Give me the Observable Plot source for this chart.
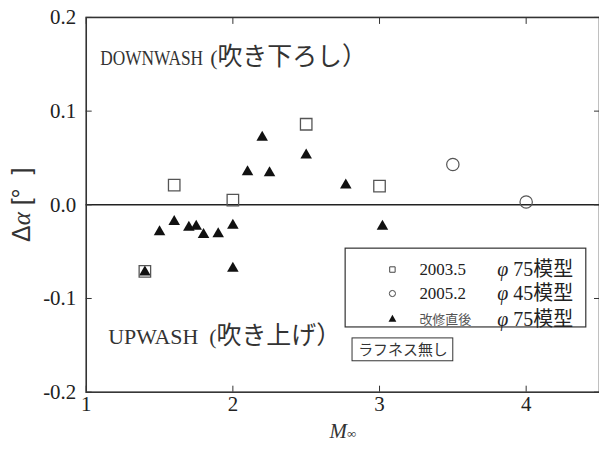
<!DOCTYPE html>
<html><head><meta charset="utf-8">
<script src="https://cdn.jsdelivr.net/npm/d3@7"></script>
<script src="https://cdn.jsdelivr.net/npm/@observablehq/plot@0.6"></script>
<style>
html,body{margin:0;padding:0;background:#fff;overflow:hidden;}
#chart{width:599px;height:470px;overflow:hidden;}
</style></head><body><div id="chart"></div>
<script>
// ---- data ----
const squareM = [1.4, 1.6, 2.0, 2.5, 3.0];
const squareDA = [-0.071, 0.021, 0.005, 0.086, 0.020];
const circleM = [3.5, 4.0];
const circleDA = [0.043, 0.003];
const triM = [1.4, 1.5, 1.6, 1.7, 1.75, 1.8, 1.9, 2.0, 2.0, 2.1, 2.2, 2.25, 2.5, 2.77, 3.02];
const triDA = [-0.072, -0.029, -0.018, -0.024, -0.023, -0.032, -0.031, -0.022, -0.068, 0.035, 0.072, 0.034, 0.053, 0.021, -0.023];
const xTicks = [1, 2, 3, 4];
const yTicks = [-0.2, -0.1, 0.0, 0.1, 0.2];
const legendLabels = ["2003.5", "2005.2", "改修直後"];
const legendModels = ["φ 75模型", "φ 45模型", "φ 75模型"];
const legendSymbols = ["square", "circle", "triangle"];
const yTitle = "Δα [° ]";
const xTitle = "M∞";
const downText = "DOWNWASH";
const downJa = "(吹き下ろし）";
const upText = "UPWASH  (吹き上げ）";
const roughText = "ラフネス無し";

const squares = squareM.map((m, i) => ({m, da: squareDA[i]}));
const circles = circleM.map((m, i) => ({m, da: circleDA[i]}));
const tris = triM.map((m, i) => ({m, da: triDA[i]}));
const legendRowY = [-0.0691, -0.0947, -0.1223];
const legendRows = legendLabels.map((label, i) => ({label, model: legendModels[i], symbol: legendSymbols[i], y: legendRowY[i]}));

const serif = "Liberation Serif, 'Noto Sans CJK JP', serif";
const chart = Plot.plot({
  width: 601, height: 470,
  marginLeft: 86, marginRight: 0, marginTop: 17, marginBottom: 77,
  x: {domain: [1, 4.5]},
  y: {domain: [-0.2, 0.2]},
  style: {fontFamily: serif, fontSize: "20px", color: "#222", background: "white"},
  marks: [
    Plot.ruleY([0], {stroke: "#222", strokeWidth: 1.4}),
    Plot.axisX({ticks: xTicks, tickSize: -6, tickPadding: 10, tickFormat: d => String(d), label: null, stroke: "#333", fontSize: 21, fill: "#222"}),
    Plot.axisX({anchor: "top", ticks: xTicks, tickSize: -6, tickFormat: () => "", label: null, stroke: "#333"}),
    Plot.axisY({ticks: yTicks, tickSize: -6, tickPadding: 16, tickFormat: d => d.toFixed(1), label: null, stroke: "#333", fontSize: 21, fill: "#222"}),
    Plot.axisY({anchor: "right", ticks: yTicks, tickSize: -6, tickFormat: () => "", label: null, stroke: "#333"}),
    Plot.frame({stroke: "#333", strokeWidth: 1.6}),
    // data
    Plot.dot(tris, {x: "m", y: "da", symbol: "triangle", r: 4.3, fill: "#111", stroke: "none"}),
    Plot.dot(squares, {x: "m", y: "da", symbol: "square", r: 6.5, fill: "none", stroke: "#555", strokeWidth: 1.3}),
    Plot.dot(circles, {x: "m", y: "da", symbol: "circle", r: 6.2, fill: "none", stroke: "#555", strokeWidth: 1.2}),
    // annotations
    Plot.text([downText], {x: 1.095, y: 0.1564, text: d => d, textAnchor: "start", fontSize: 22, fill: "#333", fontFamily: serif}),
    Plot.text([downJa], {x: 1.845, y: 0.1564, text: d => d, textAnchor: "start", fontSize: 22, fill: "#333", fontFamily: serif}),
    Plot.text([upText], {x: 1.15, y: -0.1412, text: d => d, textAnchor: "start", fontSize: 22, fill: "#333", fontFamily: serif}),
    // legend
    Plot.rect([0], {x1: 2.769, x2: 4.41, y1: -0.0468, y2: -0.1309, fill: "white", stroke: "#333", strokeWidth: 1.2}),
    Plot.dot(legendRows, {x: 3.088, y: "y", symbol: "symbol", r: d => d.symbol === "triangle" ? 3.6 : 4.0,
      fill: d => d.symbol === "triangle" ? "#111" : "none", stroke: d => d.symbol === "triangle" ? "none" : "#444", strokeWidth: 1}),
    Plot.text(legendRows.filter(d => d.symbol !== "triangle"), {x: 3.272, y: "y", text: "label", textAnchor: "start", fontSize: 17, fill: "#222"}),
    Plot.text(legendRows.filter(d => d.symbol === "triangle"), {x: 3.272, y: "y", text: "label", textAnchor: "start", fontSize: 13, fill: "#555", fontFamily: "'Noto Sans CJK JP', sans-serif"}),
    Plot.text(legendRows, {x: 3.803, y: "y", text: "model", textAnchor: "start", fontSize: 20, fill: "#222"}),
    // roughness box
    Plot.rect([0], {x1: 2.816, x2: 3.503, y1: -0.1426, y2: -0.167, fill: "white", stroke: "#333", strokeWidth: 1}),
    Plot.text([roughText], {x: 3.16, y: -0.1548, text: d => d, fontSize: 15, fill: "#333", fontFamily: "'Noto Sans CJK JP', sans-serif"}),
    // axis titles
    Plot.text([yTitle], {frameAnchor: "left", dx: -64, rotate: -90, textAnchor: "middle", lineAnchor: "middle", text: d => d, fontSize: 25, fill: "#333", fontFamily: "Liberation Sans, sans-serif"}),
    Plot.text([xTitle], {frameAnchor: "bottom", dy: 46, textAnchor: "middle", text: d => d, fontSize: 21, fill: "#333", fontFamily: serif})
  ]
});

// rich-text tweaks (keep as real text)
function restyle(match, segs) {
  for (const t of chart.querySelectorAll("text")) {
    if (t.textContent === match && !t.querySelector("tspan")) {
      t.textContent = "";
      for (const s of segs) {
        const ts = document.createElementNS("http://www.w3.org/2000/svg", "tspan");
        ts.textContent = s.t;
        for (const k in (s.a || {})) ts.setAttribute(k, s.a[k]);
        t.appendChild(ts);
      }
    }
  }
}
restyle(yTitle, [{t: "Δ"}, {t: "α", a: {"font-style": "italic", "font-family": "Liberation Serif, serif"}}, {t: "\u00a0[°\u00a0\u00a0]"}]);
restyle(xTitle, [{t: "M", a: {"font-style": "italic"}}, {t: "∞", a: {"font-size": "13px"}}]);
for (const m of new Set(legendModels)) {
  restyle(m, [{t: "φ", a: {"font-style": "italic"}}, {t: m.slice(1)}]);
}
restyle(downJa, [{t: "("}, {t: "吹き下ろし）", a: {"font-size": "25px"}}]);
restyle(upText, [{t: "UPWASH"}, {t: "\u00a0\u00a0("}, {t: "吹き上げ）", a: {"font-size": "25px"}}]);
// condensed look for DOWNWASH: horizontal scale around its anchor
for (const t of chart.querySelectorAll("text")) {
  if (t.textContent === downText) {
    const x0 = +(t.getAttribute("x") || 0);
    const prev = t.getAttribute("transform") || "";
    t.setAttribute("transform", `${prev} translate(${x0} 0) scale(0.79 1) translate(${-x0} 0)`);
  }
}
for (const g of chart.querySelectorAll('g[aria-label$="tick label"]')) g.setAttribute("font-size", "21");
document.getElementById("chart").appendChild(chart);
</script>
</body></html>
